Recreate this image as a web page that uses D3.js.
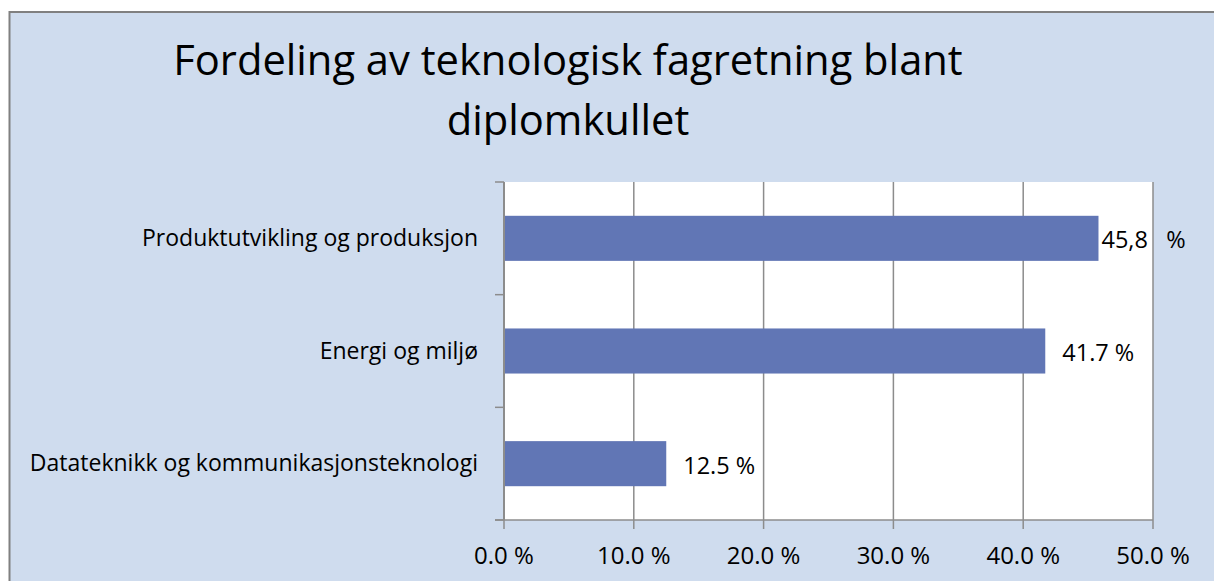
<!DOCTYPE html>
<html>
<head>
<meta charset="utf-8">
<script src="https://cdn.jsdelivr.net/npm/d3@7"></script>
<style>
  body { margin: 0; background: #fff; }
  svg { display: block; font-family: "Open Sans", Lato, sans-serif; }
</style>
</head>
<body>
<div id="chart"></div>
<script>
// data
var categories = ["Produktutvikling og produksjon", "Energi og miljø", "Datateknikk og kommunikasjonsteknologi"];
var values = [0.458, 0.417, 0.125];
var labels = ["45,8   %", "41.7 %", "12.5 %"];
var xTicks = [0, 0.1, 0.2, 0.3, 0.4, 0.5];
var titleLines = ["Fordeling av teknologisk fagretning blant", "diplomkullet"];

var W = 1214, H = 581;
var svg = d3.select("#chart").append("svg").attr("width", W).attr("height", H);

// outer chart area
svg.append("rect").attr("x", 9.5).attr("y", 12).attr("width", W + 10).attr("height", H + 10)
    .attr("fill", "#cfdcee").attr("stroke", "#808080").attr("stroke-width", 2);

// title
svg.selectAll(".title").data(titleLines).enter().append("text").attr("class", "title")
    .attr("x", 568).attr("y", (d, i) => 75 + i * 60)
    .attr("text-anchor", "middle").attr("font-size", 41.7).attr("fill", "#000")
    .text(d => d);

var x = d3.scaleLinear().domain([0, 0.5]).range([504, 1153]);
var y = d3.scaleBand().domain(categories).range([182, 520]).paddingInner(0.6).paddingOuter(0.3);

// plot area
svg.append("rect").attr("x", x(0)).attr("y", 182).attr("width", x(0.5) - x(0)).attr("height", 520 - 182)
    .attr("fill", "#fff");

// vertical gridlines
svg.selectAll(".grid").data(xTicks.slice(1)).enter().append("line").attr("class", "grid")
    .attr("x1", d => x(d)).attr("x2", d => x(d)).attr("y1", 182).attr("y2", 520)
    .attr("stroke", "#8c8c8c").attr("stroke-width", 1.5);

// bars
svg.selectAll(".bar").data(values).enter().append("rect").attr("class", "bar")
    .attr("x", x(0)).attr("y", (d, i) => y(categories[i]))
    .attr("width", d => x(d) - x(0)).attr("height", y.bandwidth())
    .attr("fill", "#6176b5");

// axes
var axisCol = "#8c8c8c";
svg.append("line").attr("x1", x(0)).attr("x2", x(0)).attr("y1", 182).attr("y2", 520)
    .attr("stroke", axisCol).attr("stroke-width", 2);
svg.append("line").attr("x1", x(0) - 9).attr("x2", x(0.5)).attr("y1", 520).attr("y2", 520)
    .attr("stroke", axisCol).attr("stroke-width", 1.5);
// category ticks at band boundaries
svg.selectAll(".ytick").data(d3.range(categories.length + 1)).enter().append("line").attr("class", "ytick")
    .attr("x1", x(0) - 9).attr("x2", x(0))
    .attr("y1", i => y.range()[0] + i * y.step()).attr("y2", i => y.range()[0] + i * y.step())
    .attr("stroke", axisCol).attr("stroke-width", 1.5);
// value ticks
svg.selectAll(".xtick").data(xTicks).enter().append("line").attr("class", "xtick")
    .attr("x1", d => x(d)).attr("x2", d => x(d)).attr("y1", 520).attr("y2", 529)
    .attr("stroke", axisCol).attr("stroke-width", 1.5);

// tick labels
svg.selectAll(".xlab").data(xTicks).enter().append("text").attr("class", "xlab")
    .attr("x", d => x(d)).attr("y", 564).attr("text-anchor", "middle")
    .attr("font-size", 24).attr("fill", "#000")
    .text(d => d3.format(".1f")(d * 100) + " %");

svg.selectAll(".ylab").data(categories).enter().append("text").attr("class", "ylab")
    .attr("x", 478).attr("y", d => y(d) + y.bandwidth() / 2 + 7.5).attr("text-anchor", "end")
    .attr("font-size", 23).attr("fill", "#000")
    .text(d => d);

// data labels (nudged right against the bar when it would overflow the plot)
svg.selectAll(".dlab").data(values).enter().append("text").attr("class", "dlab")
    .attr("x", d => x(d) + (x(d) + 80 > x(0.5) ? 3 : 17))
    .attr("y", (d, i) => y(categories[i]) + y.bandwidth() / 2 + 10)
    .attr("font-size", 23.5).attr("fill", "#000")
    .style("white-space", "pre")
    .text((d, i) => labels[i]);
</script>
</body>
</html>
